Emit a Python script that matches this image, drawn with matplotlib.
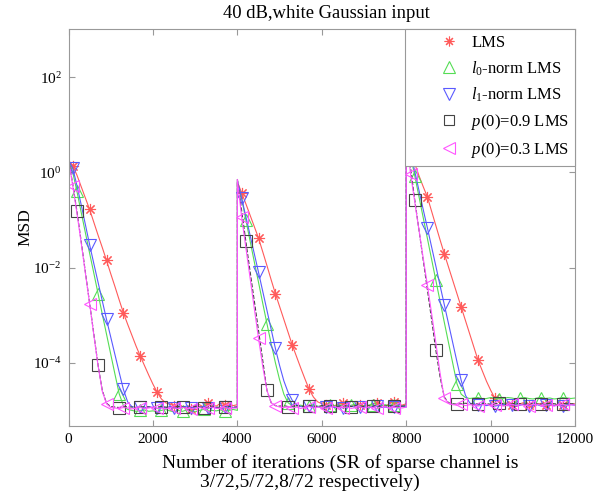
import matplotlib
matplotlib.use("Agg")
import matplotlib.pyplot as plt
from matplotlib.lines import Line2D
import numpy as np

plt.rcParams["font.family"] = ["Liberation Serif", "DejaVu Serif"]
plt.rcParams["mathtext.fontset"] = "custom"
plt.rcParams["mathtext.rm"] = "Liberation Serif"
plt.rcParams["mathtext.it"] = "Liberation Serif:italic"

# iterations inside one 4000-sample segment (channel changes at 4000 and 8000)
seg_iters = np.arange(0, 4001, 100)
seg_starts = [0, 4000, 8000]

# MSD readings as log10(MSD), one list per segment
lms = [
    [0.25, 0.14, -0.06, -0.30, -0.54, -0.78, -1.05, -1.32, -1.58, -1.85, -2.13,
     -2.40, -2.68, -2.95, -3.19, -3.42, -3.65, -3.86, -4.06, -4.26, -4.45,
     -4.62, -4.76, -4.84, -4.87, -4.90, -4.86, -4.92, -4.95, -4.98, -4.90,
     -4.88, -4.93, -4.84, -4.89, -4.91, -4.85, -4.88, -4.86, -4.90, -4.88],
    [-0.20, -0.43, -0.66, -0.90, -1.14, -1.38, -1.67, -1.96, -2.26, -2.55, -2.82,
     -3.09, -3.36, -3.63, -3.87, -4.11, -4.34, -4.56, -4.72, -4.82, -4.86,
     -4.88, -4.85, -4.90, -4.87, -4.84, -4.89, -4.92, -4.86, -4.88, -4.85,
     -4.90, -4.87, -4.84, -4.88, -4.91, -4.86, -4.82, -4.87, -4.89, -4.86],
    [0.80, 0.45, 0.18, -0.07, -0.30, -0.52, -0.82, -1.12, -1.42, -1.71, -1.99,
     -2.27, -2.55, -2.83, -3.11, -3.39, -3.67, -3.95, -4.17, -4.39, -4.58,
     -4.75, -4.83, -4.86, -4.84, -4.88, -4.92, -4.86, -4.83, -4.89, -4.94,
     -4.87, -4.85, -4.88, -4.84, -4.90, -4.86, -4.88, -4.85, -4.87, -4.86],
]
l0_lms = [
    [0.25, 0.00, -0.40, -0.84, -1.27, -1.70, -2.12, -2.55, -2.98, -3.40, -3.82,
     -4.24, -4.65, -4.90, -4.98, -5.00, -5.02, -5.00, -4.99, -5.02, -5.01,
     -5.03, -5.00, -4.98, -5.01, -5.03, -5.00, -5.02, -4.99, -5.01, -5.03,
     -5.00, -4.98, -5.02, -5.00, -5.01, -4.99, -5.02, -5.00, -4.98, -5.00],
    [-0.18, -0.55, -1.00, -1.44, -1.88, -2.31, -2.75, -3.18, -3.60, -4.00, -4.36,
     -4.66, -4.84, -4.90, -4.91, -4.89, -4.92, -4.90, -4.88, -4.91, -4.93,
     -4.90, -4.89, -4.91, -4.88, -4.90, -4.92, -4.89, -4.87, -4.90, -4.92,
     -4.89, -4.88, -4.91, -4.90, -4.88, -4.91, -4.89, -4.90, -4.92, -4.90],
    [0.80, 0.35, -0.07, -0.51, -0.95, -1.39, -1.83, -2.27, -2.71, -3.15, -3.58,
     -4.01, -4.44, -4.66, -4.73, -4.75, -4.74, -4.73, -4.76, -4.75, -4.73,
     -4.74, -4.76, -4.75, -4.73, -4.74, -4.76, -4.74, -4.73, -4.75, -4.76,
     -4.74, -4.73, -4.75, -4.74, -4.76, -4.75, -4.73, -4.74, -4.75, -4.74],
]
l1_lms = [
    [0.25, 0.09, -0.28, -0.68, -1.10, -1.52, -1.92, -2.31, -2.70, -3.09, -3.46,
     -3.83, -4.20, -4.56, -4.82, -4.92, -4.94, -4.93, -4.95, -4.92, -4.94,
     -4.96, -4.93, -4.95, -4.92, -4.94, -4.96, -4.93, -4.91, -4.94, -4.95,
     -4.93, -4.92, -4.95, -4.93, -4.94, -4.96, -4.93, -4.92, -4.94, -4.93],
    [-0.18, -0.54, -0.93, -1.32, -1.71, -2.10, -2.50, -2.90, -3.30, -3.70, -4.06,
     -4.38, -4.62, -4.79, -4.88, -4.92, -4.93, -4.91, -4.94, -4.92, -4.95,
     -4.93, -4.91, -4.94, -4.92, -4.95, -4.93, -4.91, -4.94, -4.92, -4.93,
     -4.95, -4.92, -4.91, -4.94, -4.93, -4.95, -4.92, -4.93, -4.91, -4.93],
    [0.80, 0.42, 0.02, -0.38, -0.78, -1.17, -1.57, -1.97, -2.38, -2.78, -3.18,
     -3.58, -3.98, -4.37, -4.68, -4.84, -4.88, -4.89, -4.87, -4.90, -4.88,
     -4.91, -4.89, -4.87, -4.90, -4.88, -4.91, -4.89, -4.87, -4.90, -4.89,
     -4.88, -4.91, -4.89, -4.87, -4.90, -4.88, -4.91, -4.89, -4.88, -4.89],
]
p09_lms = [
    [0.28, -0.25, -0.82, -1.45, -2.10, -2.75, -3.40, -4.05, -4.58, -4.85, -4.92,
     -4.93, -4.94, -4.93, -4.92, -4.93, -4.94, -4.93, -4.92, -4.93, -4.94,
     -4.93, -4.92, -4.93, -4.94, -4.93, -4.92, -4.93, -4.94, -4.93, -4.92,
     -4.93, -4.94, -4.93, -4.92, -4.93, -4.94, -4.93, -4.92, -4.93, -4.93],
    [-0.15, -0.80, -1.45, -2.08, -2.70, -3.32, -3.95, -4.58, -4.84, -4.90, -4.91,
     -4.90, -4.92, -4.91, -4.90, -4.91, -4.92, -4.90, -4.91, -4.92, -4.90,
     -4.91, -4.90, -4.92, -4.91, -4.90, -4.91, -4.92, -4.90, -4.91, -4.92,
     -4.90, -4.91, -4.90, -4.92, -4.91, -4.90, -4.91, -4.92, -4.91, -4.90],
    [0.80, 0.10, -0.58, -1.21, -1.84, -2.47, -3.10, -3.74, -4.30, -4.72, -4.84,
     -4.86, -4.87, -4.86, -4.85, -4.86, -4.87, -4.86, -4.85, -4.86, -4.87,
     -4.86, -4.85, -4.86, -4.87, -4.86, -4.85, -4.86, -4.87, -4.86, -4.85,
     -4.86, -4.87, -4.86, -4.85, -4.86, -4.87, -4.86, -4.85, -4.86, -4.86],
]
p03_lms = [
    [0.28, -0.28, -0.86, -1.48, -2.12, -2.76, -3.42, -4.06, -4.60, -4.86, -4.94,
     -4.95, -4.96, -4.94, -4.95, -4.97, -4.95, -4.94, -4.96, -4.95, -4.93,
     -4.96, -4.95, -4.97, -4.94, -4.95, -4.96, -4.94, -4.95, -4.97, -4.95,
     -4.94, -4.96, -4.95, -4.93, -4.96, -4.95, -4.94, -4.96, -4.95, -4.95],
    [-0.15, -0.94, -1.58, -2.22, -2.86, -3.49, -4.08, -4.58, -4.84, -4.90, -4.93,
     -4.94, -4.92, -4.95, -4.93, -4.96, -4.94, -4.92, -4.95, -4.93, -4.94,
     -4.96, -4.93, -4.92, -4.95, -4.94, -4.93, -4.96, -4.94, -4.92, -4.95,
     -4.93, -4.94, -4.96, -4.93, -4.92, -4.95, -4.94, -4.93, -4.95, -4.93],
    [0.80, -0.03, -0.62, -1.21, -1.80, -2.37, -2.97, -3.58, -4.22, -4.74, -4.85,
     -4.88, -4.89, -4.87, -4.90, -4.88, -4.89, -4.91, -4.88, -4.87, -4.90,
     -4.89, -4.88, -4.91, -4.89, -4.87, -4.90, -4.88, -4.89, -4.91, -4.88,
     -4.87, -4.90, -4.89, -4.88, -4.91, -4.89, -4.87, -4.90, -4.88, -4.89],
]

labels = ["LMS", "$l_0$-norm LMS", "$l_1$-norm LMS",
          "$p$(0)=0.9 LMS", "$p$(0)=0.3 LMS"]
# marker iterations inside each segment
marks_400 = [100, 500, 900, 1300, 1700, 2100, 2500, 2900, 3300, 3700]
marks_500 = [200, 700, 1200, 1700, 2200, 2700, 3200, 3700]

styles = [
    dict(data=lms, color="#ff5a5a", marker=(8, 2, 0), ls="-", marks=marks_400, ms=8),
    dict(data=l0_lms, color="#55dd55", marker="^", ls="-", marks=marks_500, ms=9),
    dict(data=l1_lms, color="#5a5aff", marker="v", ls="-", marks=marks_400, ms=9),
    dict(data=p09_lms, color="#444444", marker="s", ls="--", marks=marks_500, ms=8),
    dict(data=p03_lms, color="#ff55ff", marker="<", ls="-", marks=marks_400, ms=9),
]

fig = plt.figure(figsize=(6.09, 5.0), dpi=100)
ax = fig.add_axes([0.1125, 0.148, 0.832, 0.793])

handles = []
for st, lab in zip(styles, labels):
    x = np.concatenate([seg_iters + s for s in seg_starts])
    y = 10.0 ** np.concatenate([np.array(seg) for seg in st["data"]])
    n = len(seg_iters)
    idx = [k * n + list(seg_iters).index(m) for k in range(3) for m in st["marks"]]
    ax.plot(x, y, color=st["color"], lw=0.8, ls=st["ls"], marker=st["marker"],
            markevery=idx, ms=st["ms"], mfc="none", mec=st["color"], mew=0.8)
    handles.append(Line2D([], [], ls="none", marker=st["marker"], ms=st["ms"] - 1,
                          mfc="none", mec=st["color"], mew=0.8, label=lab))

ax.set_yscale("log")
ax.set_xlim(0, 12000)
ax.set_ylim(4.7e-6, 1e3)
ax.set_xticks(np.arange(0, 12001, 2000))
ax.set_yticks([1e-4, 1e-2, 1e0, 1e2])
ax.minorticks_off()
ax.tick_params(direction="in", top=True, right=True, color="#999999",
               labelsize=11, length=4, pad=5)
for sp in ax.spines.values():
    sp.set_color("#999999")
    sp.set_linewidth(0.8)

leg = ax.legend(handles=handles, loc="upper right", borderaxespad=0,
                fontsize=12, frameon=True, fancybox=False, edgecolor="#999999",
                framealpha=1, handlelength=4.56, handletextpad=-0.96,
                labelspacing=0.48, borderpad=0.35)
leg.get_frame().set_linewidth(0.8)

fig.text(326 / 609, 1 - 13.5 / 500, "40 dB,white Gaussian input",
         ha="center", va="center", fontsize=13.4)
fig.text(25 / 609, 1 - 227 / 500, "MSD", rotation=90,
         ha="center", va="center", fontsize=12.5)
fig.text(340 / 609, 1 - 463 / 500, "Number of iterations (SR of sparse channel is",
         ha="center", va="center", fontsize=14)
fig.text(310 / 609, 1 - 482 / 500, "3/72,5/72,8/72 respectively)",
         ha="center", va="center", fontsize=14)

fig.savefig("out.png", dpi=100)
